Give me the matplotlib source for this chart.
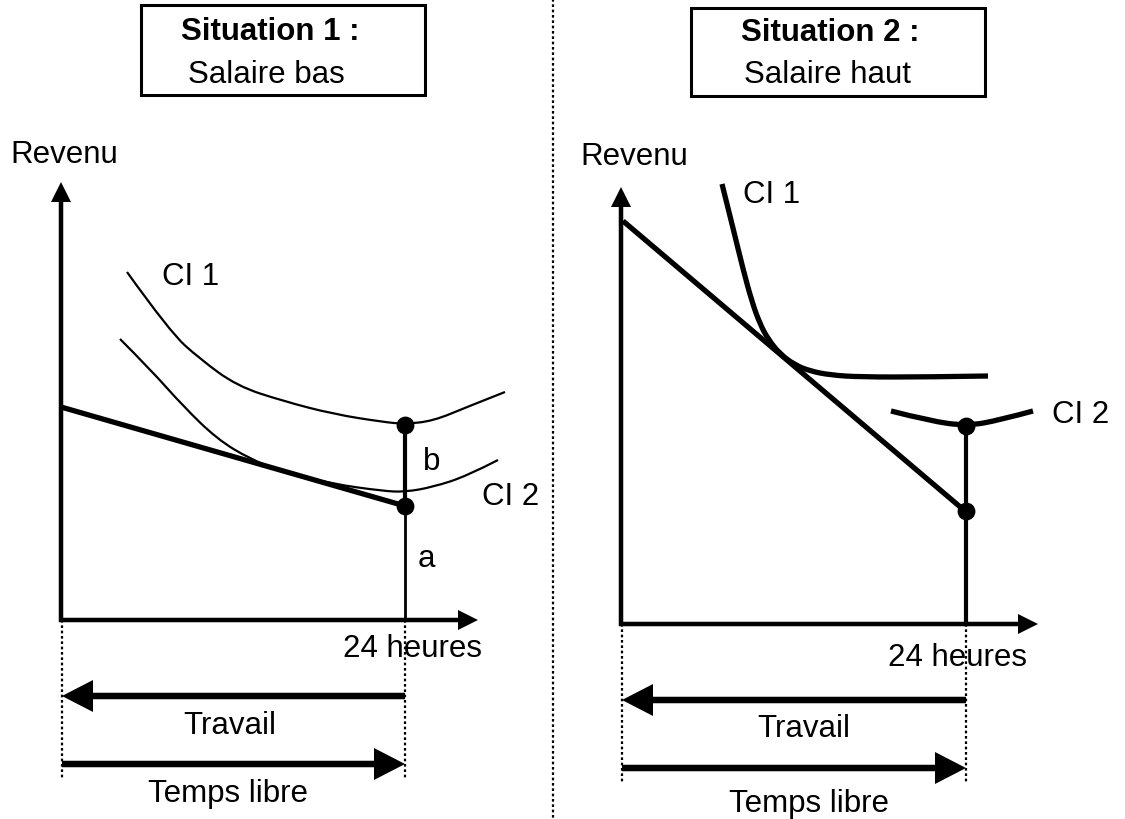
import matplotlib
matplotlib.use("Agg")
import matplotlib.pyplot as plt
from matplotlib.patches import Rectangle, PathPatch
from matplotlib.path import Path

plt.rcParams["font.family"] = ["Liberation Sans", "DejaVu Sans"]

# everything is read off the picture, in pixel units (y grows downward)
# --- situation 1 : salaire bas ---
s1_budget_x = [61, 405]
s1_budget_y = [408, 507]
s1_ci1_x = [127, 170, 200, 237, 283, 333, 383, 405, 433, 467, 505]
s1_ci1_y = [273, 333, 360, 387, 402, 415, 423, 425, 422, 408, 393]
s1_ci2_x = [120, 150, 183, 217, 250, 283, 333, 383, 405, 433, 467, 498]
s1_ci2_y = [340, 370, 407, 440, 460, 473, 485, 492, 493, 488, 477, 461]
s1_points_x = [405, 405]
s1_points_y = [426, 507]
s1_origin = (61, 621)
s1_axis_ends = (478, 183)
s1_24h = 405

# --- situation 2 : salaire haut ---
s2_budget_x = [623, 965]
s2_budget_y = [222, 512]
s2_ci1_x = [722, 735, 743, 752, 760, 768, 780, 795, 810, 830, 860, 927, 988]
s2_ci1_y = [185, 237, 270, 303, 325, 340, 355, 366, 372, 376, 378, 378, 377]
s2_ci2_x = [891, 930, 967, 1000, 1033]
s2_ci2_y = [412, 422, 427, 421, 412]
s2_points_x = [966, 966]
s2_points_y = [427, 512]
s2_origin = (621, 625)
s2_axis_ends = (1038, 188)
s2_24h = 966

fig = plt.figure(figsize=(11.25, 8.2), dpi=100)
ax = fig.add_axes([0, 0, 1, 1])
ax.set_xlim(0, 1125)
ax.set_ylim(820, 0)
ax.axis("off")

FS = 22.5
thick = 3.8
thin = 1.6


def arrow(x0, y0, x1, y1, w, hw, hl):
    ax.arrow(x0, y0, x1 - x0, y1 - y0, width=w, head_width=hw, head_length=hl,
             length_includes_head=True, color="black", lw=0)


def smooth(xs, ys, lw):
    # read points used as control points of a quadratic spline
    pts = list(zip(xs, ys))
    verts, codes = [pts[0]], [Path.MOVETO]
    for i in range(1, len(pts) - 1):
        end = pts[-1] if i == len(pts) - 2 else ((pts[i][0] + pts[i + 1][0]) / 2,
                                                (pts[i][1] + pts[i + 1][1]) / 2)
        verts += [pts[i], end]
        codes += [Path.CURVE3, Path.CURVE3]
    ax.add_patch(PathPatch(Path(verts, codes), fill=False, lw=lw, ec="black",
                           capstyle="butt"))


def panel(origin, ends, x24, bud_x, bud_y, arrow_y, dot_bottom):
    ox, oy = origin
    # axes
    arrow(ox, oy + 2, ox, ends[1], 4.5, 20, 20)
    arrow(ox - 2, oy, ends[0], oy, 4.5, 20, 20)
    # budget line
    ax.plot(bud_x, bud_y, color="black", lw=thick, solid_capstyle="butt")
    # dotted guides under the axis
    for x in (ox + 1, x24):
        ax.plot([x, x], [oy, dot_bottom], color="black", lw=1.6,
                linestyle=(0, (1.2, 1.2)))
    # travail / temps libre arrows
    arrow(x24, arrow_y[0], ox + 1, arrow_y[0], 6.5, 32, 31)
    arrow(ox + 1, arrow_y[1], x24, arrow_y[1], 6.5, 32, 31)


panel(s1_origin, s1_axis_ends, s1_24h, s1_budget_x, s1_budget_y, (697, 765), 779)
panel(s2_origin, s2_axis_ends, s2_24h, s2_budget_x, s2_budget_y, (701, 769), 783)

# situation 1 curves
smooth(s1_ci1_x, s1_ci1_y, thin)
smooth(s1_ci2_x, s1_ci2_y, thin)
ax.plot([s1_24h, s1_24h], [s1_points_y[0], s1_points_y[1]], color="black", lw=3.0)
ax.plot([s1_24h, s1_24h], [s1_points_y[1], s1_origin[1]], color="black", lw=2.0)
ax.scatter(s1_points_x, s1_points_y, s=140, color="black", zorder=5)

# situation 2 curves
smooth(s2_ci1_x, s2_ci1_y, thick)
smooth(s2_ci2_x, s2_ci2_y, thick)
ax.plot([s2_24h, s2_24h], [s2_points_y[0], s2_origin[1]], color="black", lw=3.0)
ax.scatter(s2_points_x, s2_points_y, s=140, color="black", zorder=5)

# title boxes
ax.add_patch(Rectangle((141, 6), 284, 90, fill=False, lw=2.2, ec="black"))
ax.add_patch(Rectangle((691, 9), 294, 88, fill=False, lw=2.2, ec="black"))
ax.text(270, 40, "Situation 1 :", fontsize=FS, fontweight="bold", ha="center", va="baseline")
ax.text(266, 83, "Salaire bas", fontsize=FS, ha="center", va="baseline")
ax.text(830, 41, "Situation 2 :", fontsize=FS, fontweight="bold", ha="center", va="baseline")
ax.text(827, 83, "Salaire haut", fontsize=FS, ha="center", va="baseline")

# vertical separator
ax.plot([553, 553], [0, 820], color="black", lw=1.6, linestyle=(0, (1.2, 1.2)))

# labels
labels = [
    (10, 163, "Revenu"), (162, 285, "CI 1"), (423, 470, "b"), (482, 505, "CI 2"),
    (418, 567, "a"), (343, 657, "24 heures"),
    (580, 165, "Revenu"), (743, 203, "CI 1"), (1052, 423, "CI 2"), (888, 666, "24 heures"),
]
for x, y, t in labels:
    ax.text(x, y, t, fontsize=FS, ha="left", va="baseline")

ax.text(230, 734, "Travail", fontsize=FS, ha="center", va="baseline")
ax.text(228, 802, "Temps libre", fontsize=FS, ha="center", va="baseline")
ax.text(804, 737, "Travail", fontsize=FS, ha="center", va="baseline")
ax.text(809, 812, "Temps libre", fontsize=FS, ha="center", va="baseline")

fig.savefig("out.png", dpi=100)
